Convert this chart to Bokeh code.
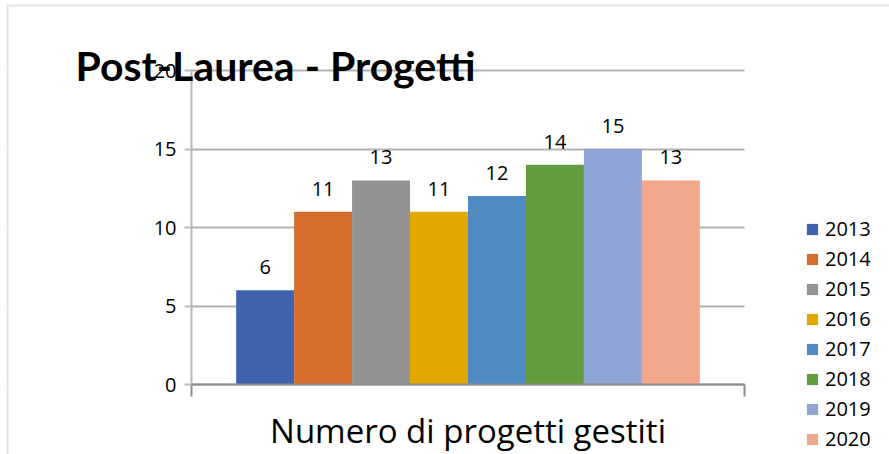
from bokeh.plotting import figure
from bokeh.models import (ColumnDataSource, LabelSet, Label, Legend, LegendItem,
                          FixedTicker, Range1d, BoxAnnotation)
from bokeh.core.properties import value
from bokeh.embed import file_html
from bokeh.resources import INLINE

# ---- data ----
years = ["2013", "2014", "2015", "2016", "2017", "2018", "2019", "2020"]
values = [6, 11, 13, 11, 12, 14, 15, 13]
colors = ["#3F64AD", "#D46D2B", "#939393", "#E1A800", "#4F8BC0",
          "#629C3F", "#8EA4D4", "#F1A88A"]
y_ticks = [0, 5, 10, 15, 20]
title_text = "Post-Laurea - Progetti"
x_label = "Numero di progetti gestiti"

# ---- layout (pixels) ----
W, H = 889, 454
AX_L, AX_R, AX_T, AX_B = 191, 744, 70, 384   # plot area edges on the canvas
BORDER_L, BORDER_T = 7, 5                     # chart-area border
FONT = "Open Sans"
GRID = "#B2B2B2"

n = len(years)
pad = 0.77
x0, x1 = -0.5 - pad, n - 0.5 + pad          # plot-area extent in data units
pxu = (AX_R - AX_L) / (x1 - x0)             # pixels per data unit (x)
xs, xe = x0 - AX_L / pxu, x1 + (W - AX_R) / pxu
ymax = y_ticks[-1]
pyu = (AX_B - AX_T) / ymax                  # pixels per data unit (y)
ys, ye = -(H - AX_B) / pyu, ymax + AX_T / pyu

src = ColumnDataSource(dict(x=list(range(n)), top=values, year=years,
                            color=colors, lab=[str(v) for v in values]))

p = figure(width=W, height=H, output_backend="svg", toolbar_location=None,
           x_range=Range1d(xs, xe), y_range=Range1d(ys, ye),
           min_border=0, outline_line_color=None)
p.toolbar.logo = None

r = p.vbar(x="x", top="top", width=1.0, color="color", source=src,
           line_color=None)

# y axis (pinned to the left edge of the plot area)
p.yaxis.fixed_location = x0
p.yaxis.bounds = (0, ymax)
p.yaxis.ticker = FixedTicker(ticks=y_ticks)
p.yaxis.axis_line_color = "#B8B8B8"
p.yaxis.axis_line_width = 2
p.yaxis.major_tick_line_color = "#B8B8B8"
p.yaxis.major_tick_line_width = 2
p.yaxis.major_tick_out = 7
p.yaxis.major_tick_in = 0
p.yaxis.minor_tick_line_color = None
p.yaxis.major_label_text_font = FONT
p.yaxis.major_label_text_font_size = "20px"
p.yaxis.major_label_text_color = "#000000"
p.yaxis.major_label_standoff = 8

# x axis (pinned to value 0)
p.xaxis.fixed_location = 0
p.xaxis.bounds = (x0, x1)
p.xaxis.ticker = FixedTicker(ticks=[x0, x1])
p.xaxis.major_label_overrides = {x0: "", x1: ""}
p.xaxis.axis_line_color = "#8C8C8C"
p.xaxis.axis_line_width = 2
p.xaxis.major_tick_line_color = "#8C8C8C"
p.xaxis.major_tick_line_width = 2
p.xaxis.major_tick_out = 12
p.xaxis.major_tick_in = 0
p.xaxis.minor_tick_line_color = None
p.xaxis.major_label_standoff = 0
p.xaxis.axis_label = x_label
p.xaxis.axis_label_text_font = FONT
p.xaxis.axis_label_text_font_style = "normal"
p.xaxis.axis_label_text_font_size = "33px"
p.xaxis.axis_label_text_color = "#000000"
p.xaxis.axis_label_standoff = 11

# grid (limited to the plot area by masking the margins beneath the axes)
p.xgrid.grid_line_color = None
p.ygrid.ticker = FixedTicker(ticks=y_ticks)
p.ygrid.grid_line_color = GRID
p.ygrid.grid_line_width = 2
for a, b in ((None, x0), (x1, None)):
    p.add_layout(BoxAnnotation(left=a, right=b, fill_color="white",
                               fill_alpha=1, line_color=None,
                               level="underlay"))

# chart-area border (left and top edges visible)
p.add_layout(BoxAnnotation(left=xs + BORDER_L / pxu, right=xe + 1,
                           top=ye - BORDER_T / pyu, bottom=ys - 1,
                           fill_alpha=0, line_color="#A3A3A3", line_width=2,
                           level="underlay"))

# value labels
labels = LabelSet(x="x", y="top", text="lab", source=src, text_align="center",
                  text_baseline="middle", y_offset=23, text_font=value(FONT),
                  text_font_size="20px", text_color="#000000")
p.add_layout(labels)

# title (overlaps the plot area, as in the original)
p.add_layout(Label(x=75, y=H - 65, x_units="screen", y_units="screen",
                   text=title_text, text_font="Lato", text_font_style="bold",
                   text_font_size="41px", text_color="#000000",
                   text_align="left", text_baseline="alphabetic"))

# legend
items = [LegendItem(label=yr, renderers=[r], index=i) for i, yr in enumerate(years)]
legend = Legend(items=items, location=(805, 2), padding=0, margin=0,
                spacing=3, glyph_width=14, glyph_height=14, label_height=20,
                label_standoff=6, label_text_font=FONT,
                label_text_font_size="20px", label_text_color="#000000",
                border_line_color=None, background_fill_alpha=0)
p.add_layout(legend, "center")

open("out.html", "w").write(file_html(p, INLINE))
